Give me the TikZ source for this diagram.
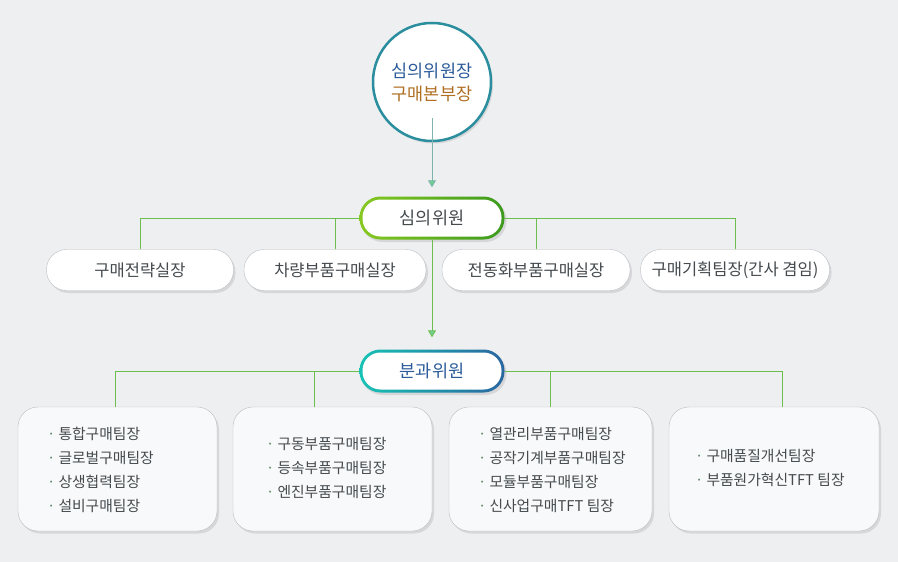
\documentclass[tikz,border=0pt]{standalone}
\usepackage{fontspec}
\setmainfont{Noto Sans CJK KR}
\usetikzlibrary{arrows.meta,shadows}
\definecolor{bgc}{HTML}{EEEFF1}
\definecolor{ringc}{HTML}{2A8E9E}
\definecolor{bluetxt}{HTML}{2B5B9A}
\definecolor{browntxt}{HTML}{B06E22}
\definecolor{greenA}{HTML}{86C820}
\definecolor{greenB}{HTML}{3C9A1E}
\definecolor{tealA}{HTML}{17C2B4}
\definecolor{tealB}{HTML}{2A66A0}
\definecolor{linec}{HTML}{6CBF4E}
\definecolor{stemc}{HTML}{7FB3B0}
\definecolor{tipc}{HTML}{6FCF8F}
\definecolor{pillline}{HTML}{BCBFC3}
\definecolor{boxfill}{HTML}{F8F9FA}
\definecolor{txt}{HTML}{444A4E}
\definecolor{dotc}{HTML}{5E8A6A}

\begin{document}
\begin{tikzpicture}[x=1pt, y=-1pt,
  shad/.style={drop shadow={shadow xshift=2pt, shadow yshift=-2.5pt, opacity=.14, fill=black!70}},
  chair/.style={circle, draw=ringc, line width=2.5pt, fill=white, minimum size=118pt,
                align=center, font=\fontsize{17.5}{24}\selectfont, shad},
  headbg/.style={rectangle, rounded corners=21pt, minimum width=145pt, minimum height=43pt,
                 inner sep=0pt, shad},
  head/.style={rectangle, fill=white, rounded corners=18pt, minimum width=139pt,
               minimum height=37pt, inner sep=0pt, font=\fontsize{17.5}{20}\selectfont},
  pill/.style={rectangle, draw=pillline, fill=white, rounded corners=20pt, minimum width=187pt,
               minimum height=41pt, inner sep=0pt, text=txt, font=\fontsize{16.5}{19}\selectfont, shad},
  grp/.style={rectangle, draw=pillline, fill=boxfill, rounded corners=20pt, minimum height=124pt,
              inner sep=0pt, shad},
  item/.style={anchor=west, inner sep=0pt, text=txt, font=\fontsize{14.8}{17}\selectfont},
  conn/.style={draw=linec, line width=0.8pt},
  arr/.style={-{Triangle[width=8pt,length=7pt,fill=tipc]}, draw=stemc, line width=0.8pt}
]
  \useasboundingbox (0,0) rectangle (898,562);
  \fill[bgc] (0,0) rectangle (898,562);

  % Chairman
  \node[chair] (chair) at (432,82)
    {\textcolor{bluetxt}{심의위원장}\\[-1pt]\textcolor{browntxt}{구매본부장}};

  % Review committee
  \node[headbg, left color=greenA, right color=greenB] (simbg) at (432,218) {};
  \node[head, text=txt] (sim) at (432,218) {심의위원};
  \draw[arr] ([yshift=-36pt]chair.center) -- (simbg.north) [shorten >=9pt];

  \foreach \i/\x/\w/\t in {1/140/187/구매전략실장, 2/335/182/차량부품구매실장,
                        3/536/188/전동화부품구매실장, 4/735/189/구매기획팀장(간사 겸임)} {
    \node[pill, minimum width=\w pt] (r\i) at (\x,270) {\t};
  }
  \draw[conn] (r1.north) |- (simbg.west);
  \draw[conn] (r2.north) |- (simbg.west);
  \draw[conn] (r3.north) |- (simbg.east);
  \draw[conn] (r4.north) |- (simbg.east);

  % Subcommittee
  \node[headbg, left color=tealA, right color=tealB] (subbg) at (432,371) {};
  \node[head, text=bluetxt] (sub) at (432,371) {분과위원};
  \draw[arr, draw=linec] (simbg.south) -- (subbg.north) [shorten >=12pt];

  \node[grp, minimum width=199pt] (b1) at (117.5,469) {};
  \node[grp, minimum width=199pt] (b2) at (332.5,469) {};
  \node[grp, minimum width=203pt] (b3) at (550.5,469) {};
  \node[grp, minimum width=210pt] (b4) at (774,469) {};

  \foreach \i/\x in {1/115, 2/314, 3/550, 4/782} {
    \coordinate (t\i) at (\x,407);
  }
  \draw[conn] (t1) |- (subbg.west);
  \draw[conn] (t2) |- (subbg.west);
  \draw[conn] (t3) |- (subbg.east);
  \draw[conn] (t4) |- (subbg.east);

  % Team lists
  \foreach \t [count=\j] in {통합구매팀장, 글로벌구매팀장, 상생협력팀장, 설비구매팀장}
    \node[item] (b1l\j) at (47,410+24*\j) {{\color{dotc}·}\hspace{3pt}\t};
  \foreach \t [count=\j] in {구동부품구매팀장, 등속부품구매팀장, 엔진부품구매팀장}
    \node[item] (b2l\j) at (266,420+24*\j) {{\color{dotc}·}\hspace{3pt}\t};
  \foreach \t [count=\j] in {열관리부품구매팀장, 공작기계부품구매팀장, 모듈부품구매팀장, 신사업구매TFT 팀장}
    \node[item] (b3l\j) at (478,410+24*\j) {{\color{dotc}·}\hspace{3pt}\t};
  \foreach \t [count=\j] in {구매품질개선팀장, 부품원가혁신TFT 팀장}
    \node[item] (b4l\j) at (695,432+24*\j) {{\color{dotc}·}\hspace{3pt}\t};
\end{tikzpicture}
\end{document}
